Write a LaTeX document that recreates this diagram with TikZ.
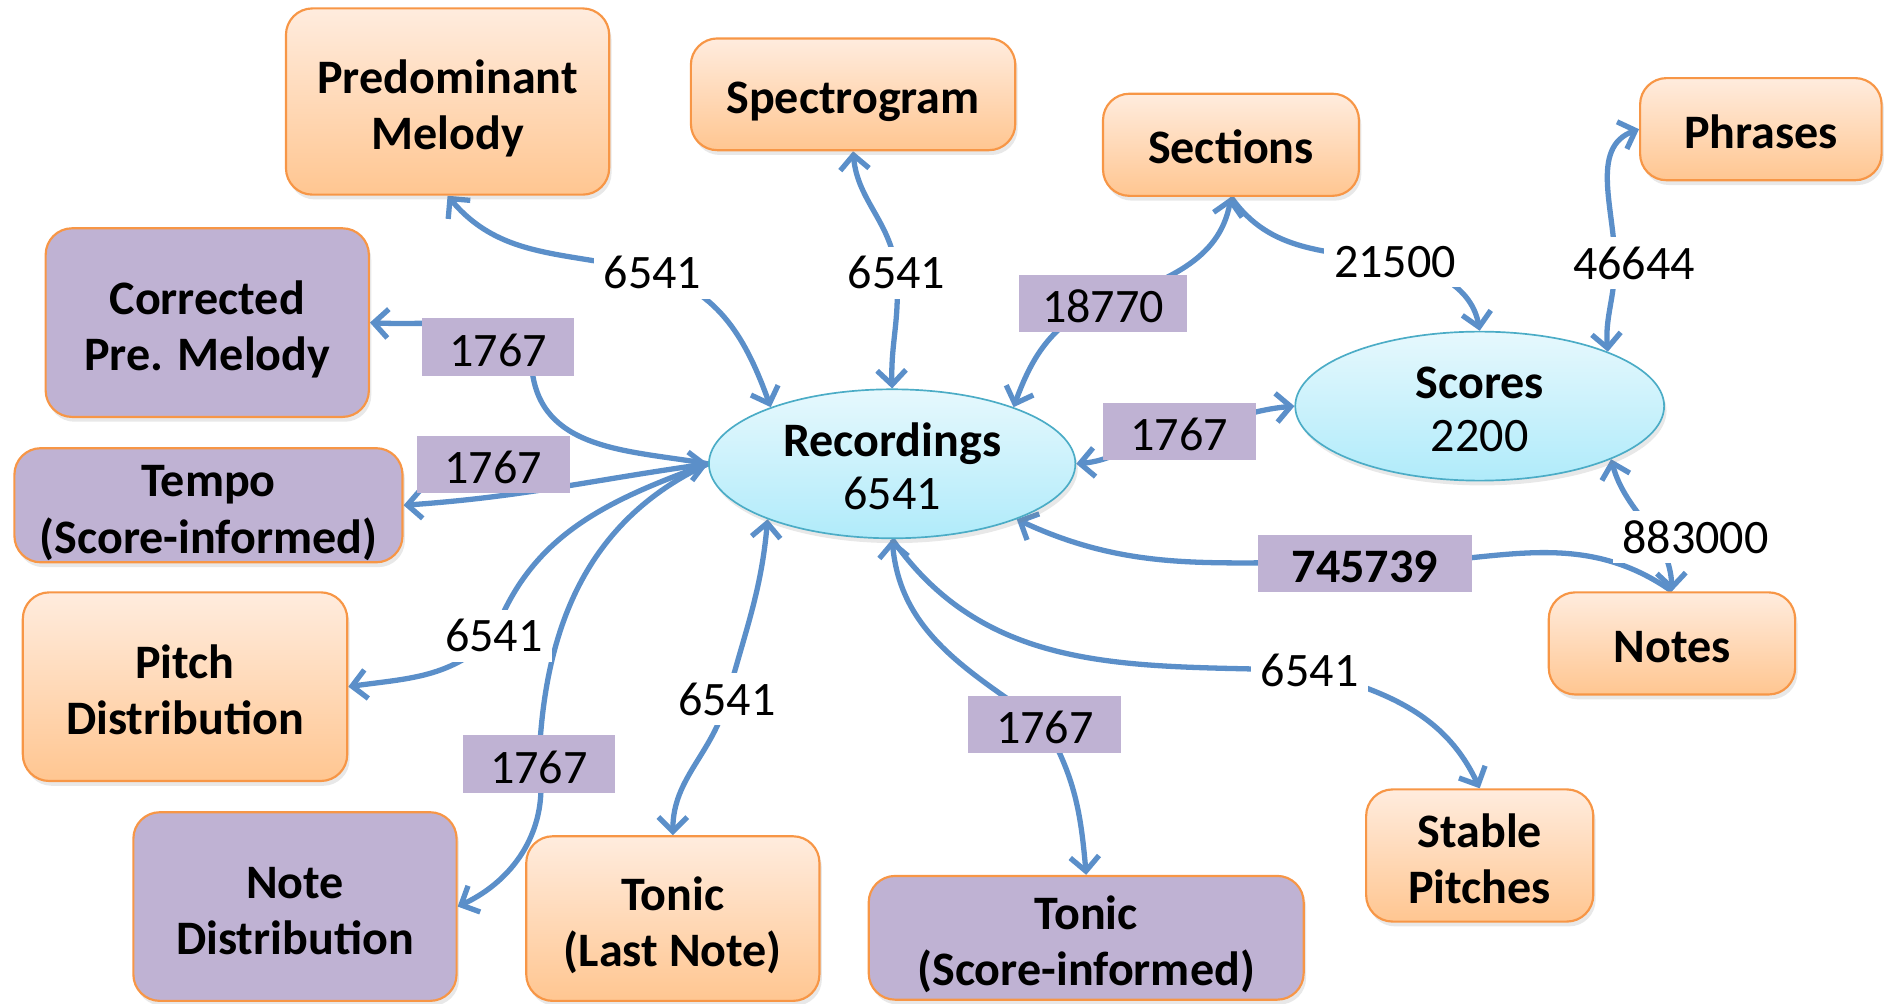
\documentclass[tikz,border=0pt]{standalone}
\usepackage{fontspec}
\setmainfont{Carlito}
\usetikzlibrary{arrows.meta,shapes.geometric,shadows}
\definecolor{edgeblue}{RGB}{91,143,201}
\definecolor{boxborder}{RGB}{247,150,70}
\definecolor{orangetop}{RGB}{255,236,222}
\definecolor{orangebot}{RGB}{255,198,145}
\definecolor{purplefill}{RGB}{191,178,211}
\definecolor{bluetop}{RGB}{230,248,253}
\definecolor{bluebot}{RGB}{176,235,250}
\definecolor{ellborder}{RGB}{75,172,198}
\pgfdeclarelayer{edgelayer}
\pgfsetlayers{edgelayer,main}
\newcommand{\twolines}[3]{\begin{tabular}{@{}c@{}}\rule{0pt}{#3}#1\\#2\end{tabular}}
\tikzset{
  >={Straight Barb[length=6pt,width=12pt]},
  softshadow/.style={drop shadow={opacity=0.18, shadow xshift=1pt, shadow yshift=-2pt}},
  basebox/.style={rectangle, rounded corners=11pt, draw=boxborder, line width=0.9pt,
    inner xsep=0pt, inner ysep=-5pt, font=\fontsize{20}{23.5}\selectfont\bfseries, softshadow},
  oneline/.style={execute at begin node={\rule[-4.3pt]{0pt}{24.3pt}}},
  obox/.style={basebox, top color=orangetop, bottom color=orangebot},
  pbox/.style={basebox, fill=purplefill},
  ell/.style={ellipse, draw=ellborder, line width=0.7pt, top color=bluetop, bottom color=bluebot,
    inner sep=-5pt, font=\fontsize{20}{22}\selectfont, softshadow},
  wlab/.style={fill=white, inner sep=4pt, font=\fontsize{20}{22}\selectfont},
  plab/.style={fill=purplefill, inner sep=0pt, minimum height=24pt, minimum width=63.5pt,
    font=\fontsize{20}{22}\selectfont, execute at begin node={\rule{0pt}{16pt}}},
  conn/.style={draw=edgeblue, line width=2.2pt},
}
\begin{document}
\begin{tikzpicture}[x=0.5pt,y=0.5pt]
\useasboundingbox (0,0) rectangle (1568,-835);

% main nodes
\node[obox, minimum width=134.5pt, minimum height=77.5pt] (pm) at (372.5,-84.5) {\twolines{Predominant}{Melody}{23.5pt}};
\node[obox, oneline, minimum width=135pt, minimum height=46.5pt] (spec) at (710,-78.5) {Spectrogram};
\node[obox, oneline, minimum width=106.5pt, minimum height=42.5pt] (sec) at (1024.5,-120.5) {Sections};
\node[obox, oneline, minimum width=100.5pt, minimum height=42.5pt] (phr) at (1465.5,-107.5) {Phrases};
\node[pbox, minimum width=134.5pt, minimum height=78.5pt] (corr) at (172.5,-268.5) {\twolines{Corrected}{Pre. Melody}{23.5pt}};
\node[pbox, minimum width=161.5pt, minimum height=47.5pt] (tempo) at (173.5,-420.5) {\twolines{Tempo}{(Score-informed)}{23.5pt}};
\node[obox, minimum width=135pt, minimum height=78.5pt] (pitch) at (154,-571.5) {\twolines{Pitch}{Distribution}{23.5pt}};
\node[pbox, minimum width=134.5pt, minimum height=78.5pt] (nd) at (245.5,-754.5) {\twolines{Note}{Distribution}{23.5pt}};
\node[obox, minimum width=122pt, minimum height=68.5pt] (tln) at (560,-764.5) {\twolines{Tonic}{(Last Note)}{23.5pt}};
\node[pbox, minimum width=181pt, minimum height=51.5pt] (tsi) at (904,-780.5) {\twolines{Tonic}{(Score-informed)}{23.5pt}};
\node[obox, minimum width=94.5pt, minimum height=55pt] (stab) at (1231.5,-712) {\twolines{Stable}{Pitches}{23.5pt}};
\node[obox, oneline, minimum width=102.5pt, minimum height=42.5pt] (notes) at (1391.5,-535.5) {Notes};
\node[ell, minimum width=152.5pt, minimum height=62pt] (rec) at (742.5,-386) {\twolines{\textbf{Recordings}}{6541}{22.5pt}};
\node[ell, minimum width=153.5pt, minimum height=62pt] (sco) at (1231.5,-338) {\twolines{\textbf{Scores}}{2200}{22.5pt}};

% labels
\node[wlab] (l1) at (543,-227) {6541};
\node[wlab] (l2) at (746,-227) {6541};
\node[plab, minimum width=70pt] (l3) at (918,-252.5) {18770};
\node[wlab] (l4) at (1161,-218) {21500};
\node[wlab] (l5) at (1360,-219) {46644};
\node[plab] (l6) at (414.5,-289) {1767};
\node[plab] (l7) at (410.5,-386.5) {1767};
\node[plab] (l8) at (981.5,-359) {1767};
\node[plab, minimum width=89pt, font=\fontsize{20}{22}\selectfont\bfseries] (l9) at (1136,-469) {745739};
\node[wlab] (l10) at (1411,-447) {883000};
\node[wlab] (l11) at (411,-529) {6541};
\node[plab] (l12) at (448.5,-636) {1767};
\node[wlab] (l13) at (605,-582) {6541};
\node[plab] (l14) at (869.5,-603) {1767};
\node[wlab] (l15) at (1090,-558) {6541};

\begin{pgfonlayer}{edgelayer}
\draw[conn,<->] (pm.south) to[out=-50,in=165] (l1.center) to[out=-15,in=110] (rec.155);
\draw[conn,<->] (spec.south) to[out=-85,in=95] (l2.center) to[out=-85,in=92] (rec.north);
\draw[conn,<->] (rec.25) to[out=70,in=200] (l3.center) to[out=20,in=-100] (sec.south);
\draw[conn,->] (sec.south) to[out=-55,in=170] (l4.center) to[out=-10,in=100] (sco.north);
\draw[conn,<->] (phr.west) to[out=200,in=90] ([xshift=-8pt]l5.center) to[out=-90,in=95] (sco.23);
\draw[conn,<->] (rec.east) to[out=5,in=190] (l8.center) to[out=10,in=185] (sco.west);
\draw[conn,<-] (rec.-24) to[out=-25,in=178] (l9.center) to[out=-2,in=145] (notes.north);
\draw[conn,<->] (sco.-22) to[out=-75,in=92] (notes.north);
\draw[conn,<-] (corr.east) to[out=-3,in=100] (l6.-40) to[out=-80,in=170] (rec.west);
\draw[conn,<->] (tempo.east) to[out=4,in=188] (rec.west);
\draw[conn,<-] (pitch.east) to[out=8,in=225] (l11.center) to[out=70,in=200] (rec.west);
\draw[conn,<-] (nd.east) to[out=25,in=-80] (l12.center) to[out=88,in=205] (rec.west);
\draw[conn,<->] (rec.204) to[out=-95,in=75] (l13.center) to[out=-105,in=90] (tln.north);
\draw[conn,<->] (rec.south) to[out=-85,in=145] (l14.center) to[out=-60,in=95] (tsi.north);
\draw[conn,->] (rec.south) to[out=-55,in=178] (l15.center) to[out=-15,in=115] (stab.north);
\end{pgfonlayer}
\end{tikzpicture}
\end{document}
